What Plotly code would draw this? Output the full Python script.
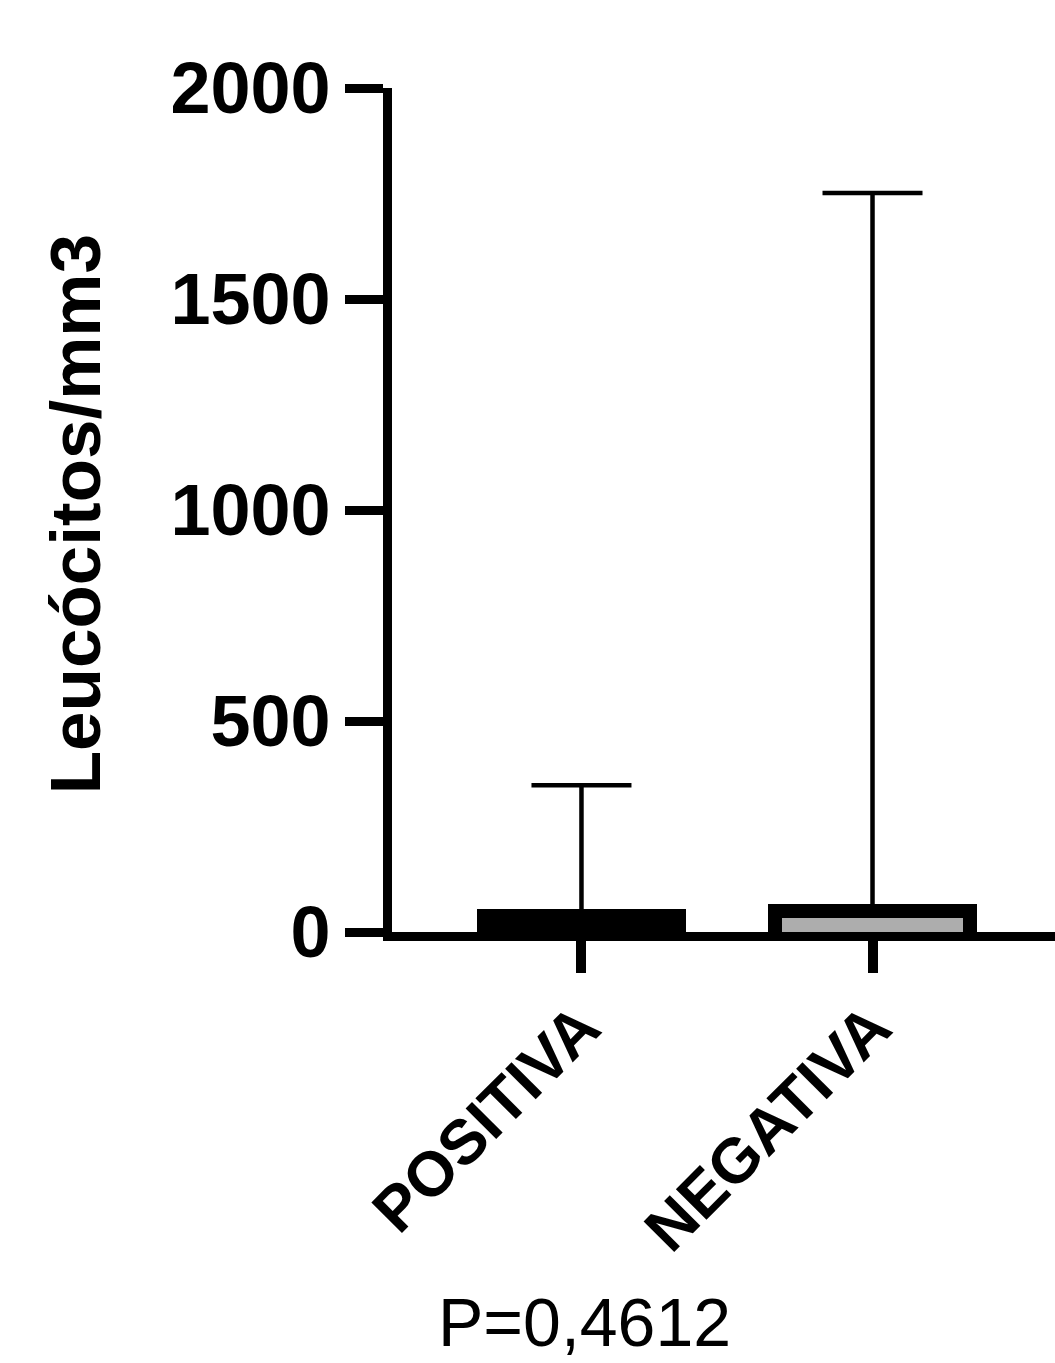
import plotly.graph_objects as go

categories = ["POSITIVA", "NEGATIVA"]
values = [38, 50]
err_plus = [310, 1701]
err_minus = [0, 0]
y_ticks = [0, 500, 1000, 1500, 2000]
y_title = "Leucócitos/mm3"
p_text = "P=0,4612"

FONT = "Liberation Sans, Arial, Helvetica, sans-serif"
# bars start slightly below the axis so their bottom outline is hidden under the axis line
BAR_BASE = -17

fig = go.Figure()
fig.add_trace(go.Bar(
    x=[0, 1],
    y=[v - BAR_BASE for v in values],
    base=[BAR_BASE] * len(values),
    width=0.67,
    marker=dict(color=["#000000", "#adadad"], line=dict(color="#000000", width=14)),
    error_y=dict(type="data", symmetric=False, array=err_plus, arrayminus=err_minus,
                 color="#000000", thickness=4.5, width=50),
    showlegend=False,
))

fig.update_layout(
    width=1055, height=1363,
    margin=dict(l=392, r=0, t=87.5, b=431, autoexpand=False),
    paper_bgcolor="white", plot_bgcolor="white",
    font=dict(family=FONT, color="black"),
    bargap=0,
)
fig.update_xaxes(
    range=[-0.651, 1.627],
    tickmode="array", tickvals=[0, 1], ticktext=categories,
    tickangle=-45,
    tickfont=dict(family=FONT, size=63, color="black", weight="bold"),
    ticklabelstandoff=-8,
    showline=True, linecolor="black", linewidth=9,
    ticks="outside", ticklen=32, tickwidth=10, tickcolor="black",
    showgrid=False, zeroline=False, fixedrange=True,
)
fig.update_yaxes(
    range=[0, 2000],
    tickmode="array", tickvals=y_ticks, ticktext=[str(v) for v in y_ticks],
    tickfont=dict(family=FONT, size=72, color="black", weight="bold"),
    showline=True, linecolor="black", linewidth=9,
    ticks="outside", ticklen=38, tickwidth=8.5, tickcolor="black",
    showgrid=False, zeroline=False, fixedrange=True,
)
fig.add_annotation(
    text=y_title, xref="paper", yref="paper", x=-0.478, y=0.495,
    textangle=-90, showarrow=False, xanchor="center", yanchor="middle",
    font=dict(family=FONT, size=71, color="black", weight="bold"),
)
fig.add_annotation(
    text=p_text, xref="paper", yref="paper", x=0.291, y=-0.462,
    showarrow=False, xanchor="center", yanchor="middle",
    font=dict(family=FONT, size=68, color="black"),
)

fig.write_html("out.html")
